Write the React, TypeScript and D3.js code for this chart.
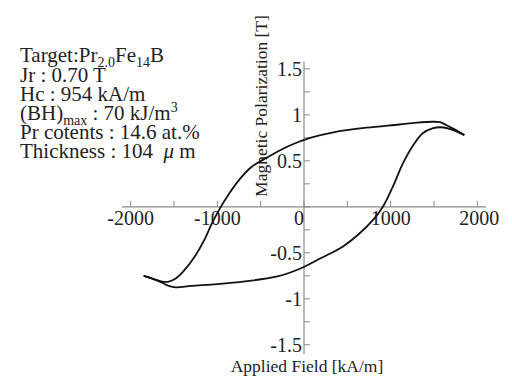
import React, { useEffect, useRef } from "react";
import * as d3 from "d3";

// hysteresis loop, H in kA/m, J in T
const upperH = [1850, 1720, 1640, 1570, 1490, 1300, 1100, 720, 340, 70, -50, -200, -420, -610, -760, -870, -960, -1060, -1150, -1260, -1390, -1480, -1570, -1650, -1750, -1850];
const upperJ = [0.78, 0.85, 0.89, 0.92, 0.925, 0.915, 0.895, 0.86, 0.81, 0.75, 0.71, 0.65, 0.54, 0.43, 0.28, 0.135, 0.0, -0.175, -0.36, -0.54, -0.7, -0.78, -0.815, -0.81, -0.78, -0.75];
const lowerH = [-1850, -1750, -1650, -1560, -1480, -1300, -1000, -680, -320, -40, 180, 450, 640, 800, 910, 1030, 1140, 1260, 1370, 1490, 1580, 1720, 1850];
const lowerJ = [-0.75, -0.78, -0.82, -0.86, -0.875, -0.86, -0.84, -0.81, -0.76, -0.67, -0.565, -0.43, -0.29, -0.14, 0.0, 0.23, 0.47, 0.67, 0.8, 0.855, 0.865, 0.835, 0.78];

const xTicks = [-2000, -1500, -1000, -500, 0, 500, 1000, 1500, 2000];
const xLabels = [-2000, -1000, 0, 1000, 2000];
const yTicks = [-1.5, -1.25, -1, -0.75, -0.5, -0.25, 0, 0.25, 0.5, 0.75, 1, 1.25, 1.5];
const yLabels = [-1.5, -1, -0.5, 0.5, 1, 1.5];

// sample info, each line as [text, kind] pieces
const infoLines: [string, string][][] = [
  [["Target:Pr", ""], ["2.0", "sub"], ["Fe", ""], ["14", "sub"], ["B", ""]],
  [["Jr : 0.70 T", ""]],
  [["Hc : 954 kA/m", ""]],
  [["(BH)", ""], ["max", "sub"], [" : 70 kJ/m", ""], ["3", "sup"]],
  [["Pr cotents : 14.6 at.%", ""]],
  [["Thickness : 104  ", ""], ["\u03bc", "it"], [" m", ""]],
];

const W = 512;
const H = 379;

export default function App() {
  const ref = useRef<SVGSVGElement>(null);

  useEffect(() => {
    const svg = d3.select(ref.current);
    svg.selectAll("*").remove();

    const x = d3.scaleLinear().domain([-2100, 2100]).range([122, 486]);
    const y = d3.scaleLinear().domain([-1.6, 1.58]).range([354, 61.5]);
    const font = "'Liberation Serif', 'Times New Roman', serif";
    const axisColor = "#8a8a8a";
    const ink = "#222";

    // axes lines
    svg.append("line").attr("x1", x(-2100)).attr("x2", x(2100))
      .attr("y1", y(0)).attr("y2", y(0)).attr("stroke", axisColor).attr("stroke-width", 1.2);
    svg.append("line").attr("x1", x(0)).attr("x2", x(0))
      .attr("y1", y(-1.6)).attr("y2", y(1.58)).attr("stroke", axisColor).attr("stroke-width", 1.2);

    // ticks (x up, y right)
    svg.selectAll(".xt").data(xTicks).enter().append("line")
      .attr("x1", d => x(d)).attr("x2", d => x(d))
      .attr("y1", y(0)).attr("y2", y(0) - 6)
      .attr("stroke", axisColor).attr("stroke-width", 1);
    svg.selectAll(".yt").data(yTicks).enter().append("line")
      .attr("x1", x(0)).attr("x2", x(0) + 6)
      .attr("y1", d => y(d)).attr("y2", d => y(d))
      .attr("stroke", axisColor).attr("stroke-width", 1);

    svg.selectAll(".xl").data(xLabels).enter().append("text")
      .attr("x", d => d === 0 ? x(0) - 5 : x(d) + (d === 2000 ? 2 : 0))
      .attr("y", 225)
      .attr("text-anchor", "middle")
      .attr("font-family", font).attr("font-size", 20).attr("fill", ink)
      .text(d => String(d));
    svg.selectAll(".yl").data(yLabels).enter().append("text")
      .attr("x", x(0) - 2)
      .attr("y", d => y(d))
      .attr("dy", "0.35em")
      .attr("text-anchor", "end")
      .attr("font-family", font).attr("font-size", 20).attr("fill", ink)
      .text(d => String(d));

    // axis titles
    svg.append("text").attr("x", 307).attr("y", 372)
      .attr("text-anchor", "middle").attr("font-family", font).attr("font-size", 17.5).attr("fill", ink)
      .text("Applied Field [kA/m]");
    svg.append("text")
      .attr("transform", "translate(267,106) rotate(-90)")
      .attr("text-anchor", "middle").attr("font-family", font).attr("font-size", 17.5).attr("fill", ink)
      .text("Magnetic Polarization [T]");

    // info block
    const baselines = [62, 81.5, 101, 120, 139, 158];
    infoLines.forEach((parts, i) => {
      const t = svg.append("text").attr("x", 20).attr("y", baselines[i])
        .attr("xml:space", "preserve").style("white-space", "pre")
        .attr("font-family", font).attr("font-size", 21).attr("fill", ink);
      let shift = 0;
      parts.forEach(([s, kind]) => {
        const sp = t.append("tspan").text(s);
        if (kind === "sub" || kind === "sup") {
          const target = kind === "sub" ? 5 : -8;
          sp.attr("font-size", 14).attr("dy", target - shift);
          shift = target;
        } else {
          if (shift !== 0) { sp.attr("dy", -shift); shift = 0; }
          if (kind === "it") sp.attr("font-style", "italic");
        }
      });
    });

    // loop
    const line = d3.line<[number, number]>()
      .x(d => x(d[0])).y(d => y(d[1]))
      .curve(d3.curveCatmullRom.alpha(0.5));
    const upper = upperH.map((h, i) => [h, upperJ[i]] as [number, number]);
    const lower = lowerH.map((h, i) => [h, lowerJ[i]] as [number, number]);
    [upper, lower].forEach(pts => {
      svg.append("path").attr("d", line(pts))
        .attr("fill", "none").attr("stroke", "#111").attr("stroke-width", 1.8);
    });
  }, []);

  return (
    <svg ref={ref} width={W} height={H} style={{ display: "block", position: "absolute", left: 0, top: 0 }} />
  );
}
